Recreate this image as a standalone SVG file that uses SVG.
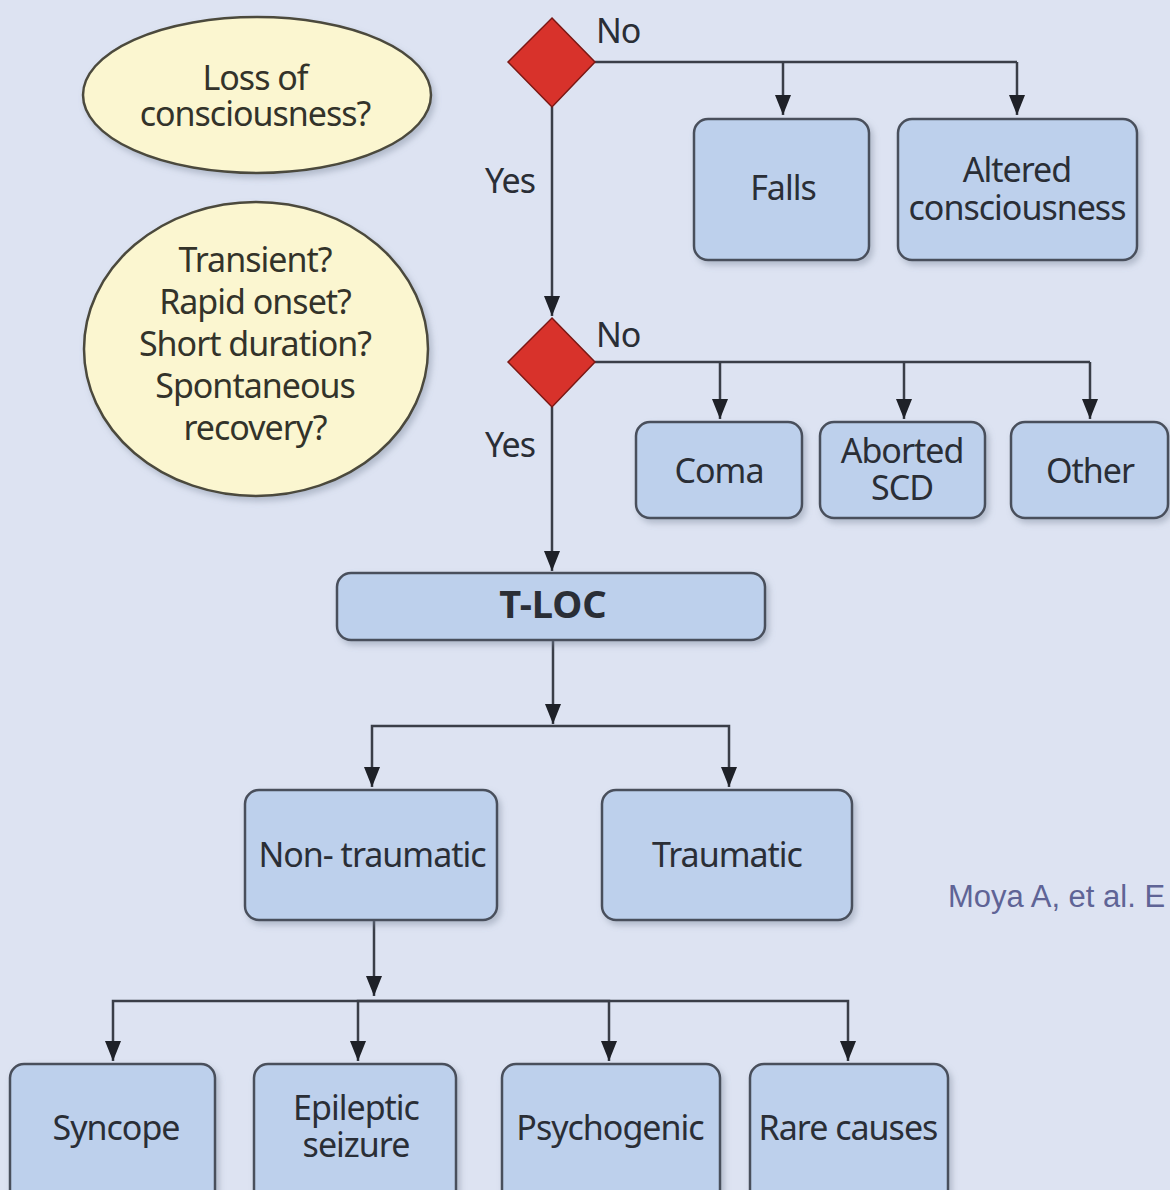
<svg xmlns="http://www.w3.org/2000/svg" width="1170" height="1190" viewBox="0 0 1170 1190">
<defs>
<marker id="ah" markerUnits="userSpaceOnUse" markerWidth="20" markerHeight="16" refX="20" refY="8" orient="auto" viewBox="0 0 20 16">
<path d="M0,0 L20,8 L0,16 Z" fill="#1e2128"/>
</marker>
<filter id="sh" x="-10%" y="-10%" width="125%" height="130%">
<feDropShadow dx="3" dy="4" stdDeviation="3" flood-color="#7d869a" flood-opacity="0.45"/>
</filter>
</defs>
<style>
text{font-family:"Noto Sans","Open Sans","DejaVu Sans",sans-serif;font-size:34px;fill:#2a2e36;text-anchor:middle;letter-spacing:-1px}
.e text{fill:#33332a}
.box{fill:#bdd0ec;stroke:#4a505c;stroke-width:2.5;filter:url(#sh)}
.ell{fill:#fbf6d0;stroke:#4c4a3c;stroke-width:2.5;filter:url(#sh)}
.dia{fill:#d8322b;stroke:#7a1814;stroke-width:1.5}
.con{fill:none;stroke:#3a3e48;stroke-width:2.5}
.arr{marker-end:url(#ah)}
.lbl{text-anchor:start}
.cite{font-family:"Liberation Sans",Arial,sans-serif;font-size:31px;fill:#5f6496;text-anchor:start;letter-spacing:0}
</style>
<rect width="1170" height="1190" fill="#dde3f2"/>

<g id="connectors">
<path class="con" d="M595,62 H1017"/>
<path class="con arr" d="M783,62 V115"/>
<path class="con arr" d="M1017,62 V115"/>
<path class="con arr" d="M552,107 V316"/>
<path class="con" d="M595,362 H1090"/>
<path class="con arr" d="M720,362 V419"/>
<path class="con arr" d="M904,362 V419"/>
<path class="con arr" d="M1090,362 V419"/>
<path class="con arr" d="M552,407 V571"/>
<path class="con arr" d="M553,640 V724"/>
<path class="con arr" d="M553,726 H372 V787"/>
<path class="con arr" d="M553,726 H729 V787"/>
<path class="con arr" d="M374,920 V996"/>
<path class="con arr" d="M374,1001 H113 V1061"/>
<path class="con arr" d="M374,1001 H358 V1061"/>
<path class="con arr" d="M374,1001 H609 V1061"/>
<path class="con arr" d="M374,1001 H848 V1061"/>
<text class="lbl" x="596" y="43">No</text>
<text class="lbl" x="596" y="347">No</text>
<text x="510" y="193">Yes</text>
<text x="510" y="457">Yes</text>
</g>

<g id="q-loss" class="e">
<ellipse class="ell" cx="257" cy="95" rx="174" ry="78"/>
<text x="255" y="90">Loss of</text>
<text x="255" y="126">consciousness?</text>
</g>

<g id="q-transient" class="e">
<ellipse class="ell" cx="256" cy="349" rx="172" ry="147"/>
<text x="255" y="272">Transient?</text>
<text x="255" y="314">Rapid onset?</text>
<text x="255" y="356">Short duration?</text>
<text x="255" y="398">Spontaneous</text>
<text x="255" y="440">recovery?</text>
</g>

<g id="d1"><path class="dia" d="M552,18 L595,62 L552,107 L508,62 Z"/></g>
<g id="d2"><path class="dia" d="M552,318 L595,362 L552,407 L508,362 Z"/></g>

<g id="falls"><rect class="box" x="694" y="119" width="175" height="141" rx="14"/><text x="783" y="200">Falls</text></g>
<g id="altered"><rect class="box" x="898" y="119" width="239" height="141" rx="14"/><text x="1017" y="182">Altered</text><text x="1017" y="220">consciousness</text></g>

<g id="coma"><rect class="box" x="636" y="422" width="166" height="96" rx="14"/><text x="719" y="483">Coma</text></g>
<g id="scd"><rect class="box" x="820" y="422" width="165" height="96" rx="14"/><text x="902" y="463">Aborted</text><text x="902" y="500">SCD</text></g>
<g id="other"><rect class="box" x="1011" y="422" width="157" height="96" rx="14"/><text x="1090" y="483">Other</text></g>

<g id="tloc"><rect class="box" x="337" y="573" width="428" height="67" rx="14"/><text x="553" y="618" style="font-weight:bold;font-size:38px;letter-spacing:0">T-LOC</text></g>

<g id="nontrauma"><rect class="box" x="245" y="790" width="252" height="130" rx="14"/><text x="372" y="867">Non- traumatic</text></g>
<g id="trauma"><rect class="box" x="602" y="790" width="250" height="130" rx="14"/><text x="727" y="867">Traumatic</text></g>

<g id="syncope"><rect class="box" x="10" y="1064" width="205" height="140" rx="14"/><text x="116" y="1140">Syncope</text></g>
<g id="epileptic"><rect class="box" x="254" y="1064" width="202" height="140" rx="14"/><text x="356" y="1120">Epileptic</text><text x="356" y="1157">seizure</text></g>
<g id="psychogenic"><rect class="box" x="502" y="1064" width="218" height="140" rx="14"/><text x="610" y="1140">Psychogenic</text></g>
<g id="rare"><rect class="box" x="750" y="1064" width="198" height="140" rx="14"/><text x="848" y="1140">Rare causes</text></g>

<text class="cite" x="948" y="907">Moya A, et al. E</text>
</svg>
